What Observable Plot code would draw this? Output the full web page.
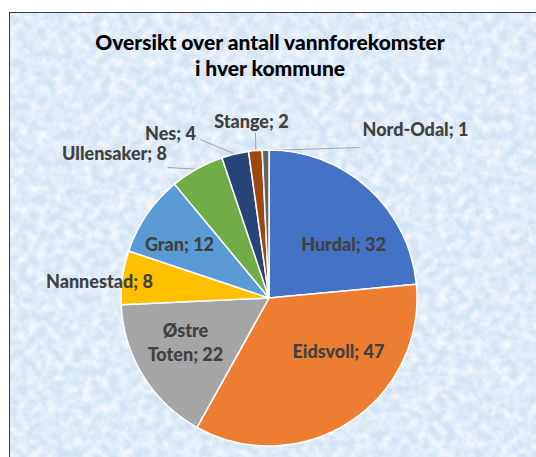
<!DOCTYPE html>
<html><head><meta charset="utf-8">
<script src="https://cdn.jsdelivr.net/npm/d3@7"></script>
<script src="https://cdn.jsdelivr.net/npm/@observablehq/plot@0.6"></script>
<style>
html,body{margin:0;padding:0;background:#fff;}
#wrap{position:relative;width:536px;height:457px;overflow:hidden;background:#fff;font-family:Lato,"Open Sans",sans-serif;}
#panel{position:absolute;left:9px;top:12px;width:560px;height:480px;border:1.5px solid #3c3c3c;background-color:#d3e3f3;}
#title{position:absolute;left:0;top:0;width:540px;height:95px;text-align:center;font-weight:900;font-size:21px;line-height:26px;color:#000;}
#title div:first-child{padding-top:29px;}
#chart{position:absolute;left:0;top:95px;}
</style></head>
<body>
<div id="wrap">
  <div id="panel"></div>
  <div id="title"><div>Oversikt over antall vannforekomster</div><div>i hver kommune</div></div>
  <div id="chart"></div>
</div>
<script>
// ---- data ----
const kommuner = ["Hurdal","Eidsvoll","Østre Toten","Nannestad","Gran","Ullensaker","Nes","Stange","Nord-Odal"];
const antall   = [32, 47, 22, 8, 12, 8, 4, 2, 1];
const etiketter = ["Hurdal; 32","Eidsvoll; 47","Østre\nToten; 22","Nannestad; 8","Gran; 12","Ullensaker; 8","Nes; 4","Stange; 2","Nord-Odal; 1"];
// ---- styles ----
const farger = ["#4472C4","#ED7D31","#A5A5A5","#FFC000","#5B9BD5","#70AD47","#264478","#9E480E","#636363"];
// ---- label layout (unit circle coordinates, radius = 1) ----
const etikettPos = [[0.50,0.375],[0.466,-0.351],[-0.568,-0.29],[-1.149,0.122],[-0.608,0.372],[-1.047,0.986],[-0.669,1.122],[-0.122,1.203],[0.986,1.149]];
// leader start points near labels (null = no leader)
const linjeStart = [null,null,null,null,null,[-0.689,0.885],[-0.466,1.074],[-0.095,1.122],[0.608,1.02]];

// panel texture
const tex = `<svg xmlns='http://www.w3.org/2000/svg' width='560' height='480'><filter id='f' x='0' y='0' width='100%' height='100%'><feTurbulence type='fractalNoise' baseFrequency='0.11' numOctaves='4' seed='7'/><feColorMatrix values='0 0 0 0 0.97  0 0 0 0 0.98  0 0 0 0 1  1.6 0 0 0 -0.5'/></filter><filter id='g' x='0' y='0' width='100%' height='100%'><feTurbulence type='fractalNoise' baseFrequency='0.06' numOctaves='3' seed='19'/><feColorMatrix values='0 0 0 0 0.72  0 0 0 0 0.83  0 0 0 0 0.95  1.2 0 0 0 -0.55'/></filter><rect width='100%' height='100%' fill='#d3e3f3'/><rect width='100%' height='100%' filter='url(#g)'/><rect width='100%' height='100%' filter='url(#f)'/></svg>`;
document.getElementById("panel").style.backgroundImage = `url("data:image/svg+xml,${encodeURIComponent(tex)}")`;

const rows = kommuner.map((k,i)=>({kommune:k, antall:antall[i], farge:farger[i], etikett:etiketter[i], px:etikettPos[i][0], py:etikettPos[i][1]}));
const arcs = d3.pie().sort(null).value(d=>d.antall)(rows);
const leaders = [];
arcs.forEach((a,i)=>{
  const s = linjeStart[i];
  if (!s) return;
  const mid = (a.startAngle + a.endAngle)/2;
  leaders.push({x1:s[0], y1:s[1], x2:Math.sin(mid), y2:Math.cos(mid)});
});

function slices(index, scales) {
  const cx = scales.x(0), cy = scales.y(0), r = scales.x(1) - scales.x(0);
  const arc = d3.arc().innerRadius(0).outerRadius(r);
  const g = d3.create("svg:g").attr("transform", `translate(${cx},${cy})`);
  g.selectAll("path").data(arcs).join("path")
    .attr("d", arc).attr("fill", d=>d.data.farge)
    .attr("stroke", "#fff").attr("stroke-width", 1.5).attr("stroke-linejoin","round");
  return g.node();
}

const chart = Plot.plot({
  width: 536, height: 362,
  margin: 0,
  style: {background: "transparent", overflow: "visible"},
  x: {domain: [-1, 1], range: [121, 417], axis: null},
  y: {domain: [-1, 1], range: [351, 55], axis: null},
  marks: [
    Plot.link(leaders, {x1:"x1", y1:"y1", x2:"x2", y2:"y2", stroke:"#a6a6a6", strokeWidth:1}),
    slices,
    Plot.text(rows, {x:"px", y:"py", text:"etikett", fill:"#404040", fontSize:18, fontWeight:900, fontFamily:"Lato, 'Open Sans', sans-serif", lineHeight:1.35, textAnchor:"middle"})
  ]
});
document.getElementById("chart").appendChild(chart);
</script>
</body></html>
